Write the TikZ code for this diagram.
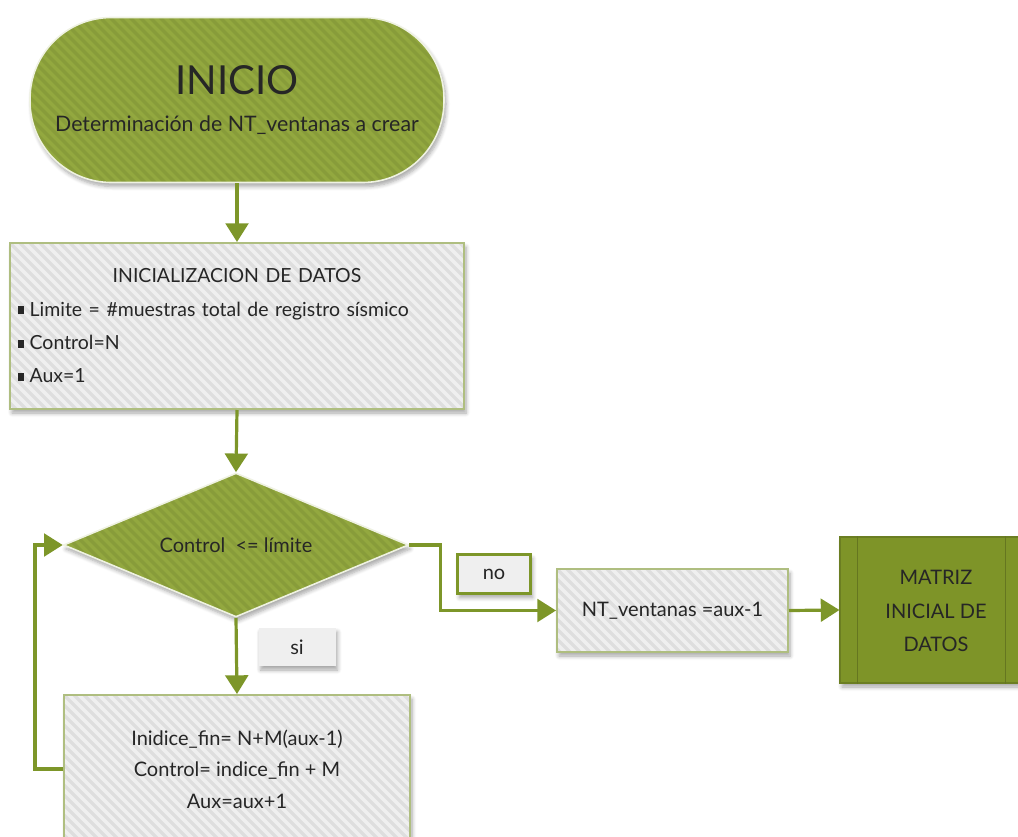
\documentclass[tikz,border=0pt]{standalone}
\usepackage{fontspec}
\setmainfont{Lato}
\usetikzlibrary{shapes.geometric,arrows.meta,shadows.blur,calc}

\definecolor{leafgreen}{HTML}{93A83F}
\definecolor{darkleaf}{HTML}{7E9428}
\definecolor{lineolive}{HTML}{7D9629}
\definecolor{panelgray}{HTML}{EFEFEF}
\definecolor{panelrule}{HTML}{AFBE80}
\definecolor{inktext}{HTML}{262626}

\newcommand{\sqbul}{\rule[0.1em]{4.5pt}{6pt}\hspace{4pt}}
\newcommand{\fs}[2]{\fontsize{#1}{#2}\selectfont}

\tikzset{
  x=0.75pt, y=-0.75pt,
  softshadow/.style={blur shadow={shadow xshift=1.5pt, shadow yshift=-3pt,
      shadow opacity=35, shadow blur steps=6, shadow blur radius=3pt}},
  % faint diagonal hatching inside a shape
  stripes/.style={path picture={
      \foreach \k in {-25,...,50}
        \draw[#1, opacity=0.07, line width=2.5pt]
          ($(path picture bounding box.north west)+(\k*10,0)$) -- ++(260,260);}},
  stripes/.default=black,
  greyboxstyle/.style={rectangle, fill=panelgray, draw=panelrule, line width=1.5pt,
      softshadow, text=inktext, align=center, inner sep=0pt, stripes=black},
  greenshape/.style={fill=leafgreen, draw=white!85!leafgreen, line width=1.2pt,
      softshadow, text=inktext, align=center, inner sep=0pt, stripes=black},
  flow/.style={draw=lineolive, line width=2.4pt,
      -{Triangle[length=14pt,width=17pt]}},
}

\begin{document}
\begin{tikzpicture}
\useasboundingbox (0,0) rectangle (1018,836);

% start terminal
\node[greenshape, rectangle, rounded corners=61pt, minimum width=310.5pt,
      minimum height=123.75pt] (start) at (237,100)
  {\fs{30}{33}INICIO\\[15pt] \fs{16}{22}Determinación de NT\_ventanas a crear};

% data initialisation
\node[greyboxstyle, minimum width=340.5pt, minimum height=124.5pt,
      text width=328pt, align=left, font=\fs{14.6}{25}] (init) at (237,326)
  {\makebox[328pt]{INICIALIZACION DE DATOS}\\
   \sqbul Limite = \#muestras total de registro sísmico\\
   \sqbul Control=N\\
   \sqbul Aux=1};

% loop test
\node[greenshape, diamond, aspect=2.4, minimum width=258.75pt,
      minimum height=108pt, font=\fs{15}{18}] (dec) at (236,545)
  {Control~~<= límite};

% loop body
\node[greyboxstyle, minimum width=259.5pt, minimum height=111pt,
      font=\fs{15}{23.5}] (body) at (237,769)
  {Inidice\_fin= N+M(aux-1)\\ Control= indice\_fin + M\\ Aux=aux+1};

% result of the count
\node[greyboxstyle, minimum width=173.25pt, minimum height=62.25pt,
      font=\fs{15}{18}] (nt) at (672.5,610.5)
  {NT\_ventanas =aux-1};

% predefined process
\node[rectangle, fill=darkleaf, draw=darkleaf!85!black, line width=0.8pt, softshadow,
      minimum width=137.25pt, minimum height=109.5pt, inner sep=0pt] (mat) at (931.5,610)
  {};
\draw[darkleaf!80!black, line width=0.8pt]
  ($(mat.north west)+(18,0)$) -- ($(mat.south west)+(18,0)$)
  ($(mat.north east)+(-18,0)$) -- ($(mat.south east)+(-18,0)$);
\node[text=inktext, align=center, font=\fs{15}{25}] (mattext) at (936,611)
  {MATRIZ\\ INICIAL DE\\ DATOS};

% branch labels
\node[rectangle, fill=panelgray, softshadow, minimum width=57.75pt, minimum height=28.5pt,
      text=inktext, font=\fs{15}{18}] (si) at (297,647) {si};
\node[rectangle, fill=panelgray, draw=lineolive, line width=2.4pt, softshadow,
      minimum width=55pt, minimum height=29.5pt, text=inktext, font=\fs{15}{18}] (no) at (494,574) {no};

% connectors
\draw[flow] (start.south) -- (init.north);
\draw[flow] (init.south) -- (dec.north);
\draw[flow] (dec.south) -- (body.north);
\draw[flow] (body.west) -- ++(-28,0) |- (dec.west);
\draw[flow] (dec.east) -- ++(31,0) |- (nt.west);
\draw[flow] (nt.east) -- (mat.west);
\end{tikzpicture}
\end{document}
